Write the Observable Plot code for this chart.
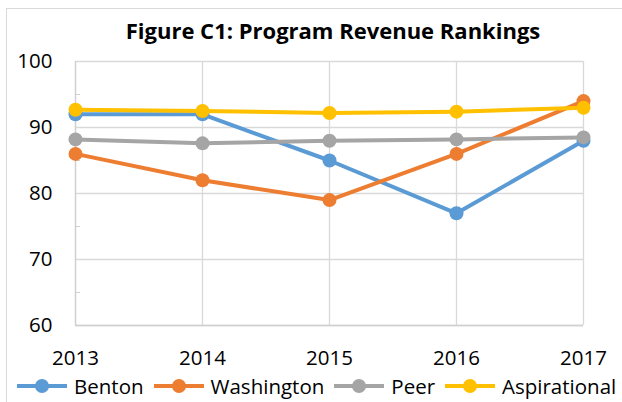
<!DOCTYPE html>
<html>
<head>
<meta charset="utf-8">
<script src="https://cdn.jsdelivr.net/npm/d3@7"></script>
<script src="https://cdn.jsdelivr.net/npm/@observablehq/plot@0.6"></script>
<style>
  html, body { margin: 0; padding: 0; background: #fff; }
  #wrap { position: relative; width: 622px; height: 402px; overflow: hidden; font-family: "Open Sans", sans-serif; }
  #frame { position: absolute; left: 6px; top: 8px; width: 700px; height: 500px; border-left: 1px solid #d9d9d9; border-top: 1px solid #d9d9d9; }
  #title { position: absolute; left: 0; width: 666px; top: 15px; text-align: center; font-weight: 700; font-size: 22px; color: #000; white-space: nowrap; }
  #chart { position: absolute; left: 0; top: 0; }
  #legend { position: absolute; left: 16px; top: 372px; display: flex; align-items: center; font-size: 20.5px; color: #000; white-space: nowrap; }
  .item { display: flex; align-items: center; margin-right: 9px; }
  .item svg { margin-right: 6px; }
</style>
</head>
<body>
<div id="wrap">
  <div id="frame"></div>
  <div id="chart"></div>
  <div id="title">Figure C1: Program Revenue Rankings</div>
  <div id="legend"></div>
</div>
<script>
const years = [2013, 2014, 2015, 2016, 2017];
const seriesNames = ["Benton", "Washington", "Peer", "Aspirational"];
const seriesColors = ["#5B9BD5", "#ED7D31", "#A5A5A5", "#FFC000"];
const benton = [92, 92, 85, 77, 88];
const washington = [86, 82, 79, 86, 94];
const peer = [88.2, 87.6, 88.0, 88.2, 88.5];
const aspirational = [92.7, 92.5, 92.2, 92.4, 93.0];
const yTicks = [60, 70, 80, 90, 100];
const yMinorTicks = [65, 75, 85, 95];

const seriesValues = [benton, washington, peer, aspirational];
const rows = seriesNames.flatMap((name, i) =>
  years.map((year, j) => ({ series: name, year, value: seriesValues[i][j] }))
);

const perSeries = seriesNames.flatMap(name => {
  const d = rows.filter(r => r.series === name);
  return [
    Plot.line(d, { x: "year", y: "value", stroke: "series", strokeWidth: 4, strokeLinejoin: "round", strokeLinecap: "round" }),
    Plot.dot(d, { x: "year", y: "value", fill: "series", r: 7, stroke: "none" })
  ];
});

const chart = Plot.plot({
  width: 622,
  height: 402,
  marginTop: 61,
  marginBottom: 77,
  marginLeft: 75,
  marginRight: 39,
  style: { fontFamily: "Open Sans, sans-serif", fontSize: "20.5px", color: "#000", background: "transparent" },
  x: { domain: [2013, 2017], label: null },
  y: { domain: [60, 100], label: null },
  color: { domain: seriesNames, range: seriesColors },
  marks: [
    Plot.gridY(yTicks, { stroke: "#d9d9d9", strokeOpacity: 1, strokeWidth: 1.3 }),
    Plot.gridX(years, { stroke: "#d9d9d9", strokeOpacity: 1, strokeWidth: 1.3 }),
    Plot.axisY(yMinorTicks, { tickSize: -5, text: null, label: null, stroke: "#d0d0d0" }),
    Plot.axisY(yTicks, { tickSize: 0, tickPadding: 23, fontSize: 20.5, fill: "#000", label: null }),
    Plot.axisX(years, { tickSize: 0, tickPadding: 25, tickFormat: d => String(d), fontSize: 20.5, fill: "#000", label: null }),
    Plot.ruleX([2013], { stroke: "#d0d0d0", strokeWidth: 1.3 }),
    Plot.ruleY([60], { stroke: "#d0d0d0", strokeWidth: 1.3 }),
    ...perSeries
  ]
});
document.getElementById("chart").appendChild(chart);

const legend = document.getElementById("legend");
seriesNames.forEach((name, i) => {
  const item = document.createElement("div");
  item.className = "item";
  item.innerHTML = `<svg width="52" height="16" viewBox="0 0 52 16"><line x1="1" y1="8" x2="51" y2="8" stroke="${seriesColors[i]}" stroke-width="4"/><circle cx="26" cy="8" r="7" fill="${seriesColors[i]}"/></svg><span>${name}</span>`;
  legend.appendChild(item);
});
</script>
</body>
</html>
